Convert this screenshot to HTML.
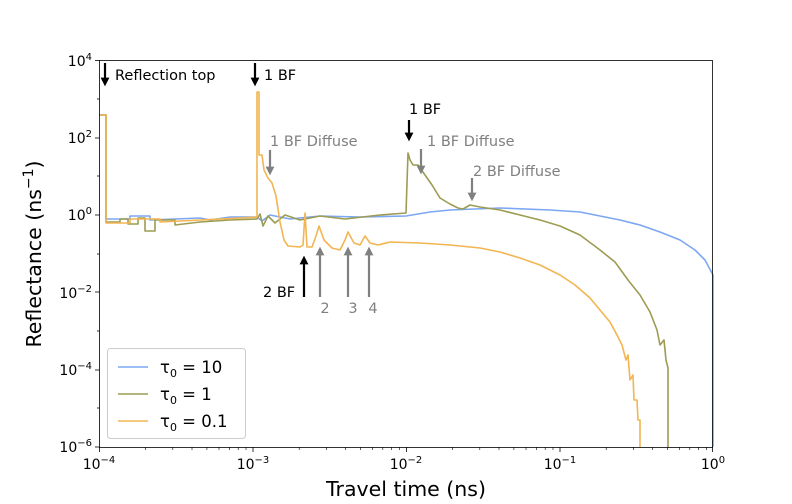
<!DOCTYPE html><html><head><meta charset="utf-8"><style>body{margin:0;background:#fff}svg{display:block;font-family:"DejaVu Sans","Liberation Sans",sans-serif}</style></head><body>
<svg width="792" height="504" viewBox="0 0 792 504" xmlns="http://www.w3.org/2000/svg">
<defs>
<marker id="hb" markerWidth="4" markerHeight="4" refX="2" refY="2" orient="auto" markerUnits="strokeWidth"><path d="M0,0 L4,2 L0,4z" fill="#000"/></marker>
<marker id="hg" markerWidth="4" markerHeight="4" refX="2" refY="2" orient="auto" markerUnits="strokeWidth"><path d="M0,0 L4,2 L0,4z" fill="#808080"/></marker>
</defs>
<g fill="none" stroke-width="1.6" stroke-linejoin="round">
<polyline stroke="#7ca7f2" points="99,115 106,115 106,219 130,219 130,216 150,216 150,220 200,218 210,220 230,217 257,217 262,221 270,215 290,219 320,216 360,217 406,216 430,212 450,210 500,208 550,210 580,212 600,216 620,220 640,225 660,232 680,240 695,250 705,260 713,275 713,447"/>
<polyline stroke="#9c9c52" points="99,115 106,115 106,222 120,222 120,219 128,219 128,224 138,224 138,218 145,218 145,231 155,231 155,220 175,220 175,225 200,222 230,220 257,219 260,214 263,226 268,216 275,223 285,215 300,220 320,216 345,219 380,215 406,213 408,153 410,160 413,165 418,165 425,175 432,185 440,198 450,204 458,208 463,209 470,205 480,207 500,210 520,215 540,220 560,226 580,235 600,250 615,262 628,280 640,295 650,312 657,330 660,345 664,340 666,360 668,368 668,447"/>
<polyline stroke="#f2b552" points="99,115 106,115 106,223 130,223 130,219 160,219 160,222 200,220 240,218 257,217 257,92 259,92 259,155 262,155 264,170 268,178 272,183 276,196 280,222 284,240 288,246 300,247 303,245 305,213 307,247 312,247 316,236 319,226 324,240 332,248 340,250 345,240 348,232 354,243 360,245 365,236 370,243 378,245 390,242 420,243 450,245 480,248 500,252 520,258 540,265 560,275 575,285 590,298 600,310 610,322 617,335 622,345 626,360 628,355 630,380 633,375 634,400 637,400 638,420 640,420 640,447"/>
</g>
<rect x="99.5" y="60.5" width="613" height="387" fill="none" stroke="#000" stroke-width="0.8"/>
<g stroke="#000" stroke-width="0.8">
<line x1="99.5" y1="447" x2="99.5" y2="452"/><line x1="253" y1="447" x2="253" y2="452"/><line x1="406.5" y1="447" x2="406.5" y2="452"/><line x1="560" y1="447" x2="560" y2="452"/><line x1="712.5" y1="447" x2="712.5" y2="452"/>
<line x1="95" y1="60.5" x2="99.5" y2="60.5"/><line x1="95" y1="138" x2="99.5" y2="138"/><line x1="95" y1="215" x2="99.5" y2="215"/><line x1="95" y1="292" x2="99.5" y2="292"/><line x1="95" y1="370" x2="99.5" y2="370"/><line x1="95" y1="447" x2="99.5" y2="447"/>
<line x1="97" y1="99" x2="99.5" y2="99"/><line x1="97" y1="176" x2="99.5" y2="176"/><line x1="97" y1="254" x2="99.5" y2="254"/><line x1="97" y1="331" x2="99.5" y2="331"/><line x1="97" y1="408" x2="99.5" y2="408"/>
</g>
<g stroke="#000" stroke-width="0.6">
<path d="M145.7,447v3M172.8,447v3M192,447v3M206.9,447v3M219,447v3M229.3,447v3M238.2,447v3M246,447v3
M299.2,447v3M326.3,447v3M345.5,447v3M360.4,447v3M372.5,447v3M382.8,447v3M391.7,447v3M399.5,447v3
M452.7,447v3M479.8,447v3M499,447v3M513.9,447v3M526,447v3M536.3,447v3M545.2,447v3M553,447v3
M606.2,447v3M633.3,447v3M652.5,447v3M667.4,447v3M679.5,447v3M689.8,447v3M698.7,447v3M706.5,447v3"/>
</g>
<g font-size="14" fill="#000" text-anchor="middle">
<text x="99" y="469">10<tspan dy="-6" font-size="10">−4</tspan></text>
<text x="253" y="469">10<tspan dy="-6" font-size="10">−3</tspan></text>
<text x="406" y="469">10<tspan dy="-6" font-size="10">−2</tspan></text>
<text x="560" y="469">10<tspan dy="-6" font-size="10">−1</tspan></text>
<text x="713" y="469">10<tspan dy="-6" font-size="10">0</tspan></text>
</g>
<g font-size="14" fill="#000" text-anchor="end">
<text x="92" y="66">10<tspan dy="-6" font-size="10">4</tspan></text>
<text x="92" y="143">10<tspan dy="-6" font-size="10">2</tspan></text>
<text x="92" y="220">10<tspan dy="-6" font-size="10">0</tspan></text>
<text x="92" y="298">10<tspan dy="-6" font-size="10">−2</tspan></text>
<text x="92" y="375">10<tspan dy="-6" font-size="10">−4</tspan></text>
<text x="92" y="452">10<tspan dy="-6" font-size="10">−6</tspan></text>
</g>
<text x="406" y="496" font-size="20.5" text-anchor="middle">Travel time (ns)</text>
<text transform="translate(41,254) rotate(-90)" font-size="20.5" text-anchor="middle">Reflectance (ns<tspan dy="-8" font-size="14">−1</tspan><tspan dy="8">)</tspan></text>
<g stroke-width="2.2">
<line x1="105" y1="63" x2="105" y2="82" stroke="#000" marker-end="url(#hb)"/>
<line x1="255" y1="63" x2="255" y2="82" stroke="#000" marker-end="url(#hb)"/>
<line x1="409" y1="120" x2="409" y2="137" stroke="#000" marker-end="url(#hb)"/>
<line x1="270" y1="150" x2="270" y2="171" stroke="#808080" marker-end="url(#hg)"/>
<line x1="421" y1="149" x2="421" y2="170" stroke="#808080" marker-end="url(#hg)"/>
<line x1="472" y1="178" x2="472" y2="197" stroke="#808080" marker-end="url(#hg)"/>
<line x1="304" y1="297" x2="304" y2="260" stroke="#000" marker-end="url(#hb)"/>
<line x1="320" y1="297" x2="320" y2="251" stroke="#808080" marker-end="url(#hg)"/>
<line x1="348" y1="297" x2="348" y2="251" stroke="#808080" marker-end="url(#hg)"/>
<line x1="369" y1="297" x2="369" y2="251" stroke="#808080" marker-end="url(#hg)"/>
</g>
<g font-size="14.5">
<text x="115" y="80" fill="#000">Reflection top</text>
<text x="264" y="80" fill="#000">1 BF</text>
<text x="409" y="114" fill="#000">1 BF</text>
<text x="270" y="146" fill="#808080">1 BF Diffuse</text>
<text x="427" y="146" fill="#808080">1 BF Diffuse</text>
<text x="473" y="176" fill="#808080">2 BF Diffuse</text>
<text x="263" y="297" fill="#000">2 BF</text>
<text x="325" y="313" fill="#808080" text-anchor="middle">2</text>
<text x="353" y="313" fill="#808080" text-anchor="middle">3</text>
<text x="373" y="313" fill="#808080" text-anchor="middle">4</text>
</g>
<rect x="107.5" y="348.5" width="138" height="90" rx="3" fill="#fff" fill-opacity="0.8" stroke="#ccc"/>
<g stroke-width="1.6">
<line x1="118" y1="367" x2="148" y2="367" stroke="#7ca7f2"/>
<line x1="118" y1="394" x2="148" y2="394" stroke="#9c9c52"/>
<line x1="118" y1="421" x2="148" y2="421" stroke="#f2b552"/>
</g>
<g font-size="16.5" fill="#000">
<text x="160" y="373">τ<tspan dy="4" font-size="11">0</tspan><tspan dy="-4"> = 10</tspan></text>
<text x="160" y="400">τ<tspan dy="4" font-size="11">0</tspan><tspan dy="-4"> = 1</tspan></text>
<text x="160" y="427">τ<tspan dy="4" font-size="11">0</tspan><tspan dy="-4"> = 0.1</tspan></text>
</g>
</svg>
</body></html>
